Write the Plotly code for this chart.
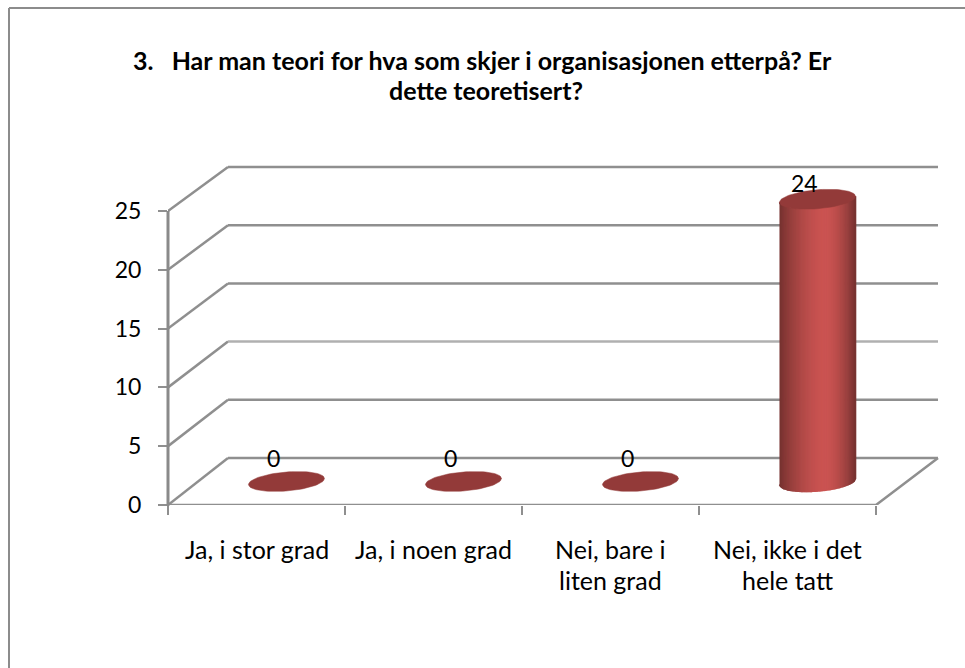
import numpy as np
import plotly.graph_objects as go

categories = ["Ja, i stor grad", "Ja, i noen grad", "Nei, bare i<br>liten grad", "Nei, ikke i det<br>hele tatt"]
values = [0, 0, 0, 24]
y_ticks = [0, 5, 10, 15, 20, 25]
title_lines = ["3.   Har man teori for hva som skjer i organisasjonen etterpå? Er", "dette teoretisert?"]

W, H = 965, 668
L, R, T, B = 168, 876, 211, 505
FONT = "Lato"
GRID = "#8f8f8f"
px_x = (R - L) / 4
px_y = (B - T) / 25
DX = 60 / px_x
DX_END = 62 / px_x
DY = 47 / px_y
BACK = 291 / 294
RX = 38 / px_x
RY = 9.5 / px_y
TILT = 3 / px_y
X_RANGE = [-0.5, -0.5 + (W - L) / px_x]
Y_RANGE = [0, B / px_y]


def pxx(p):
    return (p - L) / (W - L)


def pxy(p):
    return (B - p) / B


def ell(cat, val, t):
    cx = cat + DX / 2
    cy = val + DY / 2
    return cx + RX * np.cos(t), cy + RY * np.sin(t) + TILT * np.cos(t)


def shade(u):
    dark = np.array([118, 50, 48])
    light = np.array([203, 84, 82])
    peak = 0.2
    d = abs(u - peak) / (1 + peak if u < peak else 1 - peak)
    k = np.clip(d, 0, 1) ** 1.7
    c = light + (dark - light) * k
    return "rgb(%d,%d,%d)" % tuple(c)


fig = go.Figure()


def line(xs, ys, color=GRID, width=2.5):
    fig.add_trace(go.Scatter(x=xs, y=ys, mode="lines", line=dict(color=color, width=width),
                             cliponaxis=False, showlegend=False, hoverinfo="skip"))


for v in y_ticks:
    by = v * BACK + DY
    line([-0.5, -0.5 + DX], [v, by])
    line([-0.5 + DX, 3.5 + DX_END], [by, by], color="#b0b0b0" if v == 10 else GRID)
line([-0.5, 3.5, 3.5 + DX_END], [0, 0, DY])

for i, v in enumerate(values):
    if v > 0:
        us = np.linspace(-1, 1, 61)
        for ua, ub in zip(us[:-1], us[1:]):
            seg = np.arccos(np.linspace(ua, ub, 3))
            xb, yb = ell(i, 0, -seg)
            x_poly = list(xb) + list(xb[::-1])
            y_poly = list(yb) + list((yb + v)[::-1])
            col = shade((ua + ub) / 2)
            fig.add_trace(go.Scatter(x=x_poly, y=y_poly, mode="lines", fill="toself",
                                     fillcolor=col, line=dict(width=1.6, color=col),
                                     cliponaxis=False, showlegend=False, hoverinfo="skip"))
    t = np.linspace(0, 2 * np.pi, 80)
    ex, ey = ell(i, v, t)
    fig.add_trace(go.Scatter(x=ex, y=ey, mode="lines", fill="toself", fillcolor="#933a39",
                             line=dict(width=0.5, color="#933a39"),
                             cliponaxis=False, showlegend=False, hoverinfo="skip"))

annotations = []
for i, v in enumerate(values):
    annotations.append(dict(x=i, y=v, xref="x", yref="y", text=str(v), showarrow=False,
                            xshift=17, yshift=47 if v == 0 else 40,
                            font=dict(family=FONT, size=23, color="#000")))
for i, c in enumerate(categories):
    for j, part in enumerate(c.split("<br>")):
        annotations.append(dict(x=i, y=0, xref="x", yref="y", text=part, showarrow=False,
                                yshift=-44 - 31 * j, font=dict(family=FONT, size=25, color="#000")))
for j, (txt, cx) in enumerate(zip(title_lines, [482, 486])):
    annotations.append(dict(x=pxx(cx), y=pxy(60 + 30 * j), xref="paper", yref="paper",
                            xanchor="center", yanchor="middle", text=txt, showarrow=False,
                            font=dict(family=FONT, size=25, color="#000", weight="bold")))

frame = dict(type="line", xref="paper", yref="paper", line=dict(color="#8c8c8c", width=2), layer="below")
y_axis_bar = dict(type="rect", xref="paper", yref="paper", x0=pxx(166.5), x1=pxx(169.5), y0=pxy(506),
                  y1=y_ticks[-1] / Y_RANGE[1], fillcolor="#8a8a8a", line=dict(width=0), layer="above")

fig.update_layout(
    width=W, height=H, autosize=False,
    margin=dict(l=L, r=0, t=0, b=H - B, pad=0),
    paper_bgcolor="white", plot_bgcolor="rgba(0,0,0,0)", showlegend=False,
    annotations=annotations,
    shapes=[dict(frame, x0=pxx(9), x1=pxx(W), y0=pxy(8), y1=pxy(8)),
            dict(frame, x0=pxx(9), x1=pxx(9), y0=pxy(H), y1=pxy(8)),
            y_axis_bar],
    xaxis=dict(range=X_RANGE, showgrid=False, zeroline=False, showline=False,
               showticklabels=False, ticks="",
               tickvals=list(range(4)),
               minor=dict(tickvals=[-0.5, 0.5, 1.5, 2.5, 3.5], ticks="outside", ticklen=9,
                          tickwidth=2, tickcolor=GRID, showgrid=False)),
    yaxis=dict(range=Y_RANGE, showgrid=False, zeroline=False, showline=False,
               tickvals=y_ticks, ticks="outside", ticklen=9, tickwidth=2, tickcolor=GRID,
               tickfont=dict(family=FONT, size=23, color="#000"), ticklabelstandoff=12),
)
fig.write_html("out.html", config=dict(displayModeBar=False), post_script="document.body.style.margin='0';")
